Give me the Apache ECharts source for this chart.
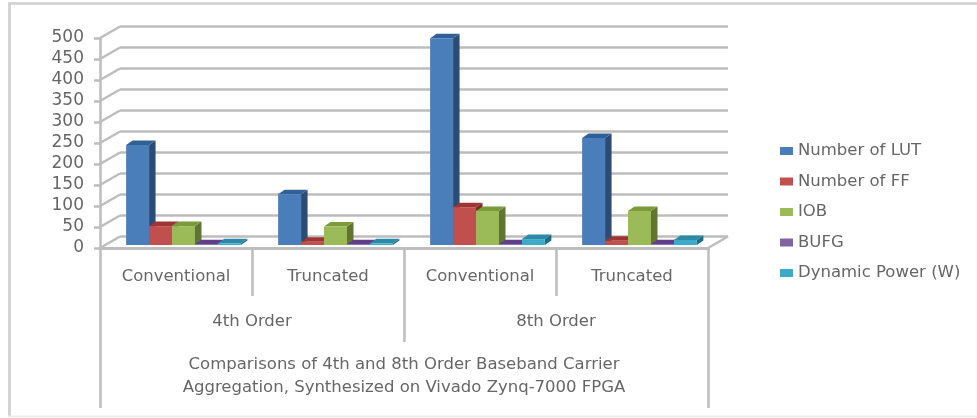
<!DOCTYPE html>
<html>
<head>
<meta charset="utf-8">
<style>html,body{margin:0;padding:0;background:#fff}#chart{width:977px;height:418px}</style>
<script src="https://cdn.jsdelivr.net/npm/echarts@6/dist/echarts.min.js"></script>
</head>
<body>
<div id="chart"></div>
<script>
// Resource usage of baseband carrier aggregation designs
const designs = ['Conventional', 'Truncated', 'Conventional', 'Truncated'];
const orders = ['4th Order', '8th Order'];
const caption = ['Comparisons of 4th and 8th Order Baseband Carrier\nAggregation, Synthesized on Vivado Zynq-7000 FPGA'];

const lutCount = [238, 121, 492, 255];
const ffCount = [45, 8, 90, 10];
const iobCount = [45, 44, 81, 81];
const bufgCount = [2, 2, 2, 2];
const dynamicPower = [4, 4, 14, 12];

const yTicks = [0, 50, 100, 150, 200, 250, 300, 350, 400, 450, 500];

const seriesDefs = [
  { name: 'Number of LUT', values: lutCount, front: '#4a7ebb', side: '#2b4d75', top: '#2f6096' },
  { name: 'Number of FF', values: ffCount, front: '#c0504d', side: '#7a2c2a', top: '#9e3533' },
  { name: 'IOB', values: iobCount, front: '#9bbb59', side: '#5f7530', top: '#7a9a3c' },
  { name: 'BUFG', values: bufgCount, front: '#8064a2', side: '#4d3b62', top: '#5f3f8a' },
  { name: 'Dynamic Power (W)', values: dynamicPower, front: '#3fa9c9', side: '#1f6c84', top: '#2b8aa8' }
];

// Oblique projection of the 3D box: wall depth and per-bar depth in pixels
const WALL_DX = 20, WALL_DY = -11.5;
const BAR_DX = 6.5, BAR_DY = -4.5;
const FRONT_DX = 7.5, FRONT_DY = -3;
const BAR_SHARE = 0.151;
const FONT = '"DejaVu Sans"';
const TEXT = '#666666';
const WALL = '#bdbdbd';

function poly(points, fill) {
  return { type: 'polygon', shape: { points }, style: { fill }, silent: true };
}

function barRenderer(def, index) {
  return function (params, api) {
    const cat = api.value(0);
    const base = api.coord([cat, 0]);
    const tip = api.coord([cat, api.value(1)]);
    const band = api.size([1, 0])[0];
    const w = band * BAR_SHARE;
    const x0 = base[0] + FRONT_DX + (index - 2.5) * w;
    const x1 = x0 + w;
    const yb = base[1] + FRONT_DY;
    const yt = tip[1] + FRONT_DY;
    return {
      type: 'group',
      children: [
        poly([[x1, yb], [x1 + BAR_DX, yb + BAR_DY], [x1 + BAR_DX, yt + BAR_DY], [x1, yt]], def.side),
        poly([[x0, yt], [x1, yt], [x1 + BAR_DX, yt + BAR_DY], [x0 + BAR_DX, yt + BAR_DY]], def.top),
        poly([[x0, yb], [x1, yb], [x1, yt], [x0, yt]], def.front)
      ]
    };
  };
}

// Back wall rules and the slanted side-wall strokes, one per value tick
function wallRenderer(params, api) {
  const v = api.value(0);
  const band = api.size([1, 0])[0];
  const left = api.coord([0, v]);
  const x0 = left[0] - band / 2;
  const x1 = x0 + band * designs.length;
  const y = left[1];
  const stroke = { stroke: WALL, lineWidth: 2.5, fill: null };
  const children = [
    { type: 'line', shape: { x1: x0, y1: y, x2: x0 + WALL_DX, y2: y + WALL_DY }, style: stroke, silent: true },
    { type: 'line', shape: { x1: x0 + WALL_DX, y1: y + WALL_DY, x2: x1 + WALL_DX, y2: y + WALL_DY }, style: stroke, silent: true }
  ];
  if (v === 0) {
    children.push({ type: 'line', shape: { x1: x1, y1: y, x2: x1 + WALL_DX, y2: y + WALL_DY }, style: stroke, silent: true });
  }
  return { type: 'group', children };
}

function levelAxis(data, tickLength, margin) {
  return {
    type: 'category',
    position: 'bottom',
    data,
    axisLine: { show: true, lineStyle: { color: WALL, width: 2.5 } },
    axisTick: { show: true, length: tickLength, alignWithLabel: false, lineStyle: { color: WALL, width: 2.5 } },
    axisLabel: { interval: 0, margin, color: TEXT, fontFamily: FONT, fontSize: 16.5, verticalAlign: 'middle', lineHeight: 23 },
    splitLine: { show: false }
  };
}

function frameLine(x1, y1, x2, y2, stroke, lineWidth) {
  return { type: 'line', shape: { x1, y1, x2, y2 }, style: { stroke, lineWidth }, silent: true };
}

const option = {
  animation: false,
  backgroundColor: '#ffffff',
  graphic: [
    frameLine(8, 3.5, 977, 3.5, '#cfcfcf', 2.5),
    frameLine(9.5, 3, 9.5, 416, '#d4d4d4', 3),
    frameLine(8, 416.5, 977, 416.5, '#eeeeee', 2)
  ],
  grid: { left: 100, right: 269, top: 38, bottom: 170, containLabel: false },
  legend: {
    orient: 'vertical',
    left: 775,
    top: 137,
    itemWidth: 13,
    itemHeight: 8,
    itemGap: 12.5,
    icon: 'rect',
    textStyle: { color: TEXT, fontFamily: FONT, fontSize: 16.5, lineHeight: 18 },
    data: seriesDefs.map(d => d.name)
  },
  xAxis: [
    levelAxis(designs, 48, 29),
    levelAxis(orders, 94, 74),
    levelAxis(caption, 160, 128)
  ],
  yAxis: {
    type: 'value',
    min: 0,
    max: 500,
    interval: 50,
    axisLine: { show: true, lineStyle: { color: WALL, width: 2.5 } },
    axisTick: { show: true, length: 6, lineStyle: { color: WALL, width: 2.5 } },
    axisLabel: { color: TEXT, fontFamily: FONT, fontSize: 17, margin: 16 },
    splitLine: { show: false }
  },
  series: [
    {
      type: 'custom',
      name: 'wall',
      coordinateSystem: 'cartesian2d',
      renderItem: wallRenderer,
      encode: { y: 0 },
      data: yTicks.map(v => [v]),
      z: 1,
      silent: true
    }
  ].concat(seriesDefs.map((def, i) => ({
    type: 'custom',
    name: def.name,
    coordinateSystem: 'cartesian2d',
    itemStyle: { color: def.front },
    renderItem: barRenderer(def, i),
    encode: { x: 0, y: 1 },
    data: def.values.map((v, c) => [c, v]),
    z: 3 + i,
    silent: true
  })))
};

const chart = echarts.init(document.getElementById('chart'), null, { renderer: 'canvas' });
chart.setOption(option);
</script>
</body>
</html>
